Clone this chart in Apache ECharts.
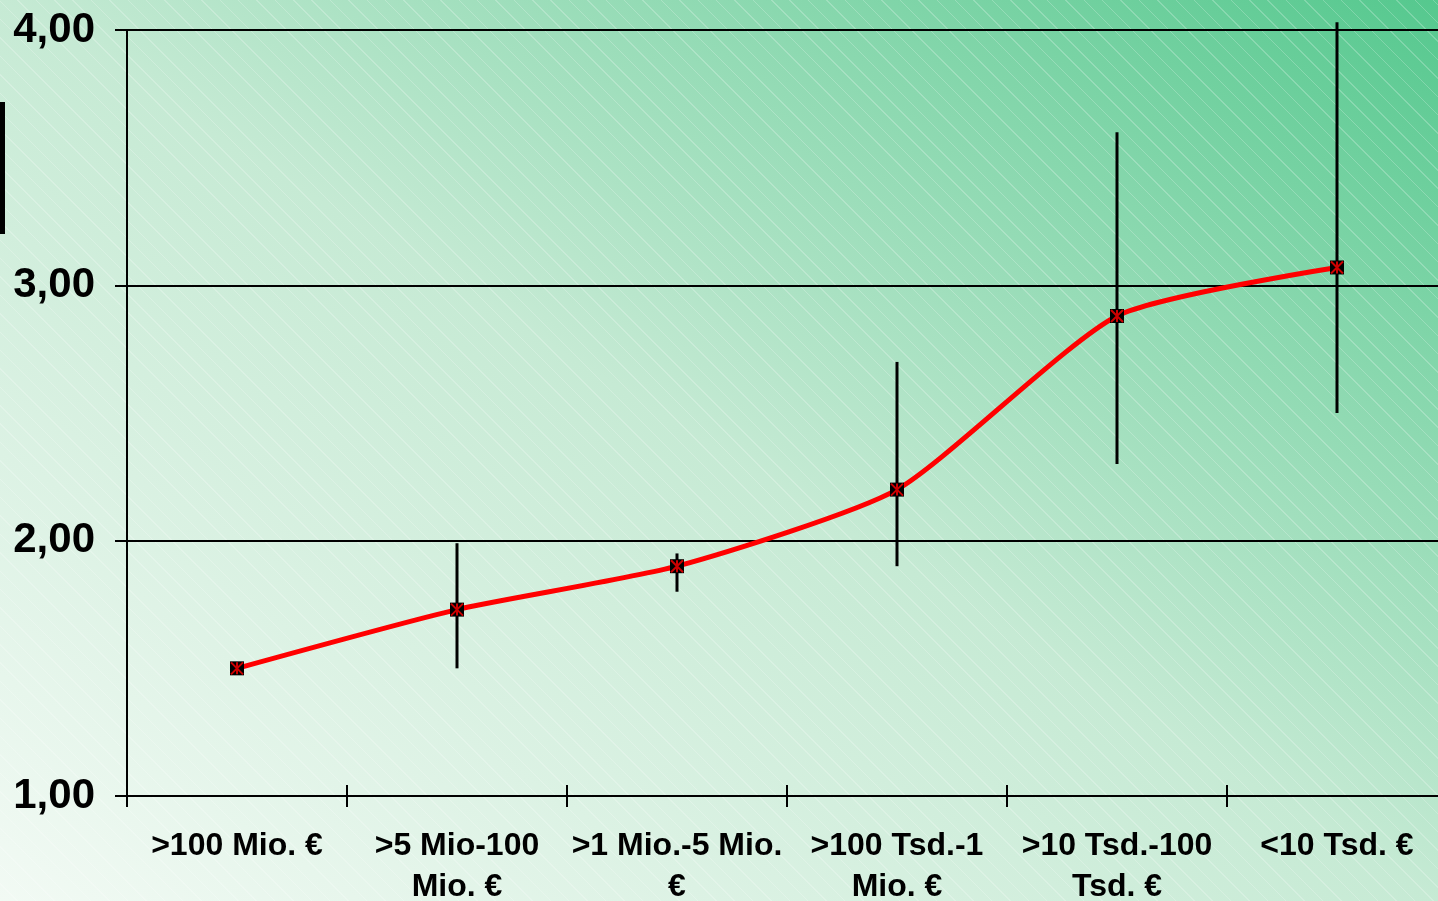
<!DOCTYPE html>
<html>
<head>
<meta charset="utf-8">
<script src="https://cdn.jsdelivr.net/npm/echarts@6/dist/echarts.min.js"></script>
<style>
html,body{margin:0;padding:0;width:1438px;height:901px;overflow:hidden;}
body{
  background:
    repeating-linear-gradient(45deg, rgba(255,255,255,0) 0px, rgba(255,255,255,0) 12px, rgba(255,255,255,0.22) 12px, rgba(255,255,255,0.22) 13px),
    linear-gradient(to top right, #f2faf4 0%, #c6ead4 50%, #55c88e 100%);
}
#chart{width:1438px;height:901px;}
</style>
</head>
<body>
<div id="chart"></div>
<script>
const categories = ['>100 Mio. €', '>5 Mio-100 Mio. €', '>1 Mio.-5 Mio. €', '>100 Tsd.-1 Mio. €', '>10 Tsd.-100 Tsd. €', '<10 Tsd. €'];
const tickLabels = ['>100 Mio. €', '>5 Mio-100\nMio. €', '>1 Mio.-5 Mio.\n€', '>100 Tsd.-1\nMio. €', '>10 Tsd.-100\nTsd. €', '<10 Tsd. €'];
const meanValues = [1.50, 1.73, 1.90, 2.20, 2.88, 3.07];
const errLow = [1.50, 1.50, 1.80, 1.90, 2.30, 2.50];
const errHigh = [1.50, 1.99, 1.95, 2.70, 3.60, 4.03];
const yTicks = [1, 2, 3, 4];

const chart = echarts.init(document.getElementById('chart'), null, {renderer: 'canvas'});
const font = '"Liberation Sans", Arial, sans-serif';

chart.setOption({
  backgroundColor: 'transparent',
  animation: false,
  grid: {left: 127, right: -9, top: 30, bottom: 105, containLabel: false, outerBoundsMode: 'none'},
  xAxis: [{
    type: 'category',
    data: categories,
    boundaryGap: true,
    axisLine: {show: true, lineStyle: {color: '#000', width: 2}},
    axisTick: {show: true, length: 11, lineStyle: {color: '#000', width: 2}},
    axisLabel: {
      interval: 0,
      margin: 30,
      color: '#000',
      fontFamily: font,
      fontWeight: 'bold',
      fontSize: 32,
      lineHeight: 41,
      formatter: function (v, i) { return tickLabels[i]; }
    },
    splitLine: {show: false}
  }, {
    type: 'category',
    data: categories,
    boundaryGap: true,
    position: 'bottom',
    axisLine: {show: false},
    axisTick: {show: true, inside: true, length: 11, lineStyle: {color: '#000', width: 2}},
    axisLabel: {show: false},
    splitLine: {show: false}
  }],
  yAxis: {
    type: 'value',
    min: 1,
    max: 4,
    interval: 1,
    axisLine: {show: true, lineStyle: {color: '#000', width: 2}},
    axisTick: {show: true, length: 12, lineStyle: {color: '#000', width: 2}},
    axisLabel: {
      margin: 32,
      color: '#000',
      fontFamily: font,
      fontWeight: 'bold',
      fontSize: 42,
      formatter: function (v) { return yTicks.indexOf(v) >= 0 ? v.toFixed(2).replace('.', ',') : ''; }
    },
    splitLine: {show: true, lineStyle: {color: '#000', width: 2}}
  },
  graphic: [{
    type: 'rect',
    shape: {x: 0, y: 102, width: 5, height: 132},
    style: {fill: '#000'}
  }],
  series: [{
    type: 'custom',
    name: 'Fehlerbalken',
    z: 3,
    renderItem: function (params, api) {
      const x = api.coord([api.value(0), api.value(1)])[0];
      const yLo = api.coord([api.value(0), api.value(1)])[1];
      const yHi = api.coord([api.value(0), api.value(2)])[1];
      return {
        type: 'line',
        shape: {x1: x, y1: yLo, x2: x, y2: yHi},
        style: {stroke: '#000', lineWidth: 3}
      };
    },
    data: categories.map((c, i) => [i, errLow[i], errHigh[i]])
  }, {
    type: 'line',
    name: 'Mittelwert',
    z: 4,
    data: meanValues,
    smooth: 0.2,
    lineStyle: {color: '#ff0000', width: 5},
    symbol: 'rect',
    symbolSize: 14,
    itemStyle: {color: '#000', borderColor: '#000', borderWidth: 0}
  }, {
    type: 'scatter',
    name: 'Marker',
    z: 5,
    data: meanValues,
    symbol: 'path://M0,0 L10,10 M10,0 L0,10 M5,0 L5,10',
    symbolSize: 12,
    itemStyle: {color: 'none', borderColor: '#ff0000', borderWidth: 2}
  }]
});
</script>
</body>
</html>
